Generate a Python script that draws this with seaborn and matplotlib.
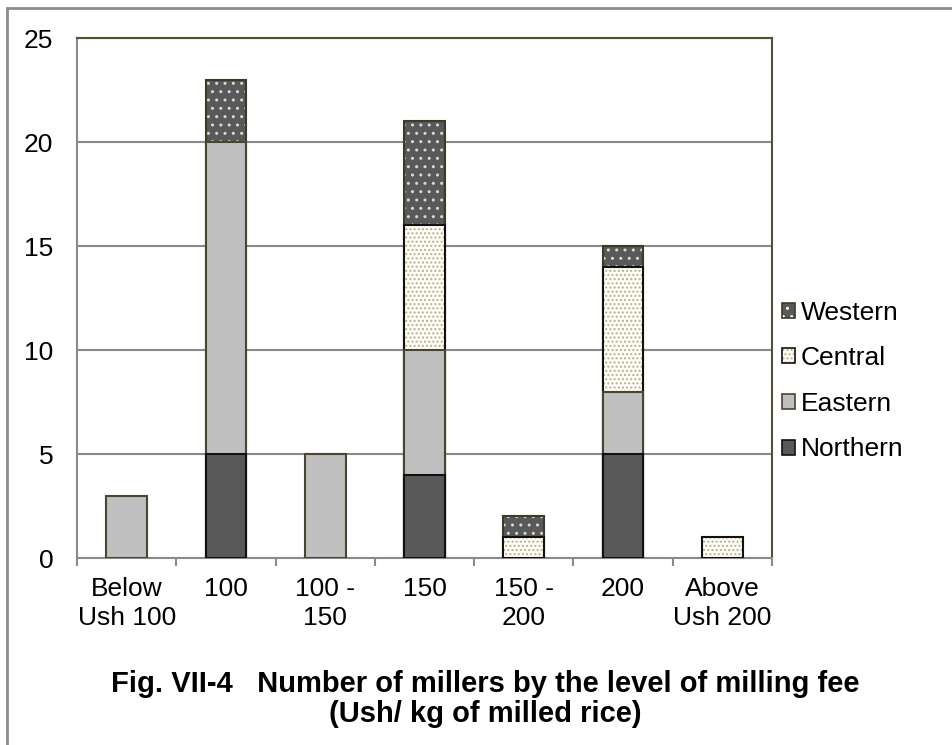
import numpy as np
import pandas as pd
import matplotlib
matplotlib.use("Agg")
import matplotlib.pyplot as plt
import seaborn as sns
from matplotlib.patches import Patch, Rectangle
from matplotlib.legend_handler import HandlerTuple

categories = ["Below\nUsh 100", "100", "100 -\n150", "150", "150 -\n200", "200", "Above\nUsh 200"]
northern = [0, 5, 0, 4, 0, 5, 0]
eastern = [3, 15, 5, 6, 0, 3, 0]
central = [0, 0, 0, 6, 1, 6, 1]
western = [0, 3, 0, 5, 1, 1, 0]
series_names = ["Northern", "Eastern", "Central", "Western"]
yticks = [0, 5, 10, 15, 20, 25]
title = "Fig. VII-4   Number of millers by the level of milling fee\n(Ush/ kg of milled rice)"

sns.set_theme(style="white")
plt.rcParams['font.family'] = ['Liberation Sans', 'DejaVu Sans']
plt.rcParams['hatch.linewidth'] = 1.0
plt.rcParams['text.color'] = 'black'
plt.rcParams['xtick.color'] = 'black'
plt.rcParams['ytick.color'] = 'black'

fig = plt.figure(figsize=(9.53, 7.45), dpi=100)
ax = fig.add_axes([77/953, 1-558/745, (772-77)/953, (558-38)/745])

n = np.array(northern, float)
e = np.array(eastern, float)
c = np.array(central, float)
w = np.array(western, float)
cum_n = n
cum_e = n + e
cum_c = cum_e + c
cum_w = cum_c + w

def nz(arr, seg):
    arr = arr.copy()
    arr[np.array(seg) == 0] = np.nan
    return arr

df = pd.DataFrame({"cat": categories,
                   "W": nz(cum_w, western), "C": nz(cum_c, central),
                   "E": nz(cum_e, eastern), "N": nz(cum_n, northern)})

dark = "#595959"
gray = "#c0c0c0"
edge = "#3d3a28"
tan = "#b9b08a"
bw = 0.41

# Western: dark fill with white dots
sns.barplot(data=df, x="cat", y="W", order=categories, color=dark, width=bw,
            saturation=1, edgecolor="#d8d8d8", linewidth=0, hatch="..", ax=ax, zorder=2)
sns.barplot(data=df, x="cat", y="W", order=categories, color=edge, width=bw,
            fill=False, linewidth=1.5, ax=ax, zorder=3)
# Central: cream with tan dots
sns.barplot(data=df, x="cat", y="C", order=categories, color="#fffef8", width=bw,
            saturation=1, edgecolor=tan, linewidth=0, hatch="....", ax=ax, zorder=4)
sns.barplot(data=df, x="cat", y="C", order=categories, color="#111111", width=bw,
            fill=False, linewidth=1.5, ax=ax, zorder=5)
# Eastern
sns.barplot(data=df, x="cat", y="E", order=categories, color=gray, width=bw,
            saturation=1, edgecolor="#4a4430", linewidth=1.5, ax=ax, zorder=6)
# Northern
sns.barplot(data=df, x="cat", y="N", order=categories, color=dark, width=bw,
            saturation=1, edgecolor="#111111", linewidth=1.5, ax=ax, zorder=7)

ax.set_xlim(-0.5, len(categories) - 0.5)
ax.set_ylim(0, 25)
ax.set_yticks(yticks)
ax.set_xlabel("")
ax.set_ylabel("")
ax.yaxis.grid(True, color="#8a8a8a", linewidth=1.5)
ax.set_axisbelow(True)
ax.tick_params(axis="y", length=0, pad=17, labelsize=19, labelcolor="black")
ax.tick_params(axis="x", which="major", length=0, pad=14, labelsize=19, labelcolor="black")
ax.set_xticks(np.arange(-0.5, len(categories), 1.0), minor=True)
ax.tick_params(axis="x", which="minor", length=6, width=1.5, color="#8a8a8a", direction="out")
ax.xaxis.set_ticks_position("bottom")
for lab in ax.get_xticklabels():
    lab.set_linespacing(1.25)

for s in ["left", "bottom"]:
    ax.spines[s].set_color("#8a8a8a")
    ax.spines[s].set_linewidth(1.5)
for s in ["top", "right"]:
    ax.spines[s].set_color("#55502f")
    ax.spines[s].set_linewidth(1.5)
    ax.spines[s].set_visible(True)

# Legend
def hatched(fc, hc, hatch, ec):
    return (Patch(facecolor=fc, edgecolor=hc, hatch=hatch, linewidth=0),
            Patch(facecolor="none", edgecolor=ec, linewidth=1.2))
handles = [hatched(dark, "white", "..", edge),
           hatched("#fffef8", tan, "....", "#111111"),
           Patch(facecolor=gray, edgecolor="#4a4430", linewidth=1.2),
           Patch(facecolor=dark, edgecolor="#111111", linewidth=1.2)]
labels = ["Western", "Central", "Eastern", "Northern"]
fig.legend(handles, labels, loc="center left", bbox_to_anchor=(782/953, 1-381/745),
           frameon=False, fontsize=19, handlelength=0.5, handleheight=0.5,
           handletextpad=0.2, labelspacing=0.82, borderpad=0, borderaxespad=0,
           handler_map={tuple: HandlerTuple(ndivide=1)})

fig.text(485/953, 1-699/745, title, ha="center", va="center", fontsize=21,
         fontweight="bold", linespacing=1.1, color="black")

# outer border
fig.add_artist(Rectangle((7/953, -0.1), 1.2, 1.1 - 8/745, transform=fig.transFigure,
                         facecolor="none", edgecolor="#8c8c8c", linewidth=2, clip_on=False))

fig.savefig("out.png", dpi=100)
